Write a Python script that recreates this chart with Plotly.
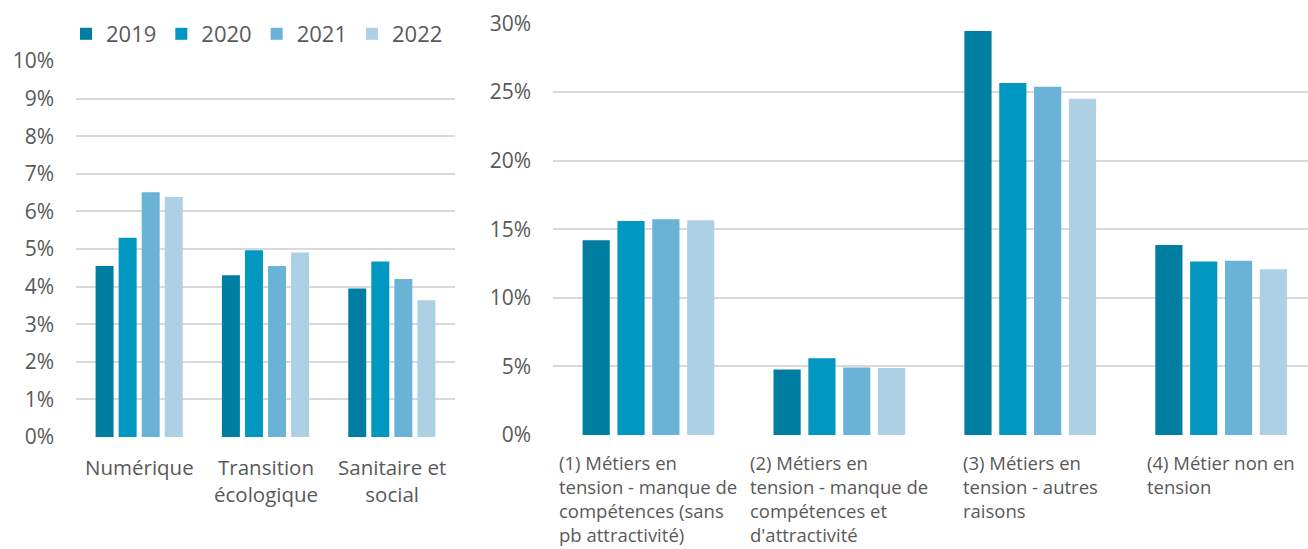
import plotly.graph_objects as go

years = ["2019", "2020", "2021", "2022"]
colors = ["#007EA1", "#0097C1", "#6AB2D6", "#ADD0E4"]

left_categories = ["Numérique", "Transition<br>écologique", "Sanitaire et<br>social"]
left_2019 = [0.0455, 0.0430, 0.0395]
left_2020 = [0.0530, 0.0497, 0.0467]
left_2021 = [0.0651, 0.0455, 0.0420]
left_2022 = [0.0638, 0.0491, 0.0364]

right_categories = [
    "(1) Métiers en<br>tension - manque de<br>compétences (sans<br>pb attractivité)",
    "(2) Métiers en<br>tension - manque de<br>compétences et<br>d'attractivité",
    "(3) Métiers en<br>tension - autres<br>raisons",
    "(4) Métier non en<br>tension",
]
right_2019 = [0.1419, 0.0477, 0.2946, 0.1386]
right_2020 = [0.1560, 0.0559, 0.2566, 0.1264]
right_2021 = [0.1573, 0.0493, 0.2538, 0.1271]
right_2022 = [0.1565, 0.0488, 0.2451, 0.1208]

left_series = [left_2019, left_2020, left_2021, left_2022]
right_series = [right_2019, right_2020, right_2021, right_2022]

FONT = "Open Sans"
GREY = "#595959"
GRID = "#D9D9D9"

fig = go.Figure()
for yr, col, lv, rv in zip(years, colors, left_series, right_series):
    fig.add_trace(go.Bar(x=left_categories, y=lv, name=yr, marker=dict(color=col, line_width=0),
                         xaxis="x", yaxis="y", legendgroup=yr, showlegend=True))
    fig.add_trace(go.Bar(x=right_categories, y=rv, name=yr, marker=dict(color=col, line_width=0),
                         xaxis="x2", yaxis="y2", legendgroup=yr, showlegend=False))

W, H = 1308, 549
annotations = []
for c in left_categories:
    annotations.append(dict(x=c, xref="x", y=1 - 451 / H, yref="paper", text=c, showarrow=False,
                            xanchor="center", yanchor="top", align="center",
                            font=dict(family=FONT, size=20.5, color=GREY)))
for c in right_categories:
    annotations.append(dict(x=c, xref="x2", y=1 - 448 / H, yref="paper", text=c, showarrow=False,
                            xanchor="center", yanchor="top", align="left",
                            font=dict(family=FONT, size=18.5, color=GREY)))

fig.update_layout(
    width=W, height=H,
    margin=dict(l=0, r=0, t=0, b=0, autoexpand=False),
    paper_bgcolor="white", plot_bgcolor="white",
    barmode="group", bargap=0.27, bargroupgap=0.22,
    font=dict(family=FONT, color=GREY, size=20),
    showlegend=True,
    legend=dict(orientation="h", x=257 / W, y=1 - 34 / H, xanchor="center", yanchor="middle",
                font=dict(family=FONT, size=22, color=GREY), traceorder="normal",
                itemwidth=30, bgcolor="rgba(0,0,0,0)"),
    xaxis=dict(domain=[76 / W, 455 / W], showticklabels=False, showgrid=False, zeroline=False,
               showline=False, ticks="", range=[-0.5, 2.5], automargin=False),
    yaxis=dict(domain=[1 - 437 / H, 1 - 61 / H], range=[0, 0.1], dtick=0.01, tickformat=".0%",
               showgrid=True, gridcolor=GRID, gridwidth=2, zeroline=False, showline=False,
               ticks="", ticklabelstandoff=21, automargin=False,
               tickfont=dict(family=FONT, size=21, color=GREY)),
    xaxis2=dict(domain=[553 / W, 1.0], showticklabels=False, showgrid=False, zeroline=False,
                showline=False, ticks="", range=[-0.5, 3.455], automargin=False),
    yaxis2=dict(domain=[1 - 435 / H, 1 - 23.5 / H], range=[0, 0.30], dtick=0.05, tickformat=".0%",
                anchor="x2", showgrid=True, gridcolor=GRID, gridwidth=2, zeroline=False, showline=False,
                ticks="", ticklabelstandoff=21, automargin=False,
                tickfont=dict(family=FONT, size=21, color=GREY)),
    annotations=annotations,
)

fig.write_html("out.html", config={"displayModeBar": False},
               post_script="document.body.style.margin='0px';document.body.style.overflow='hidden';")
